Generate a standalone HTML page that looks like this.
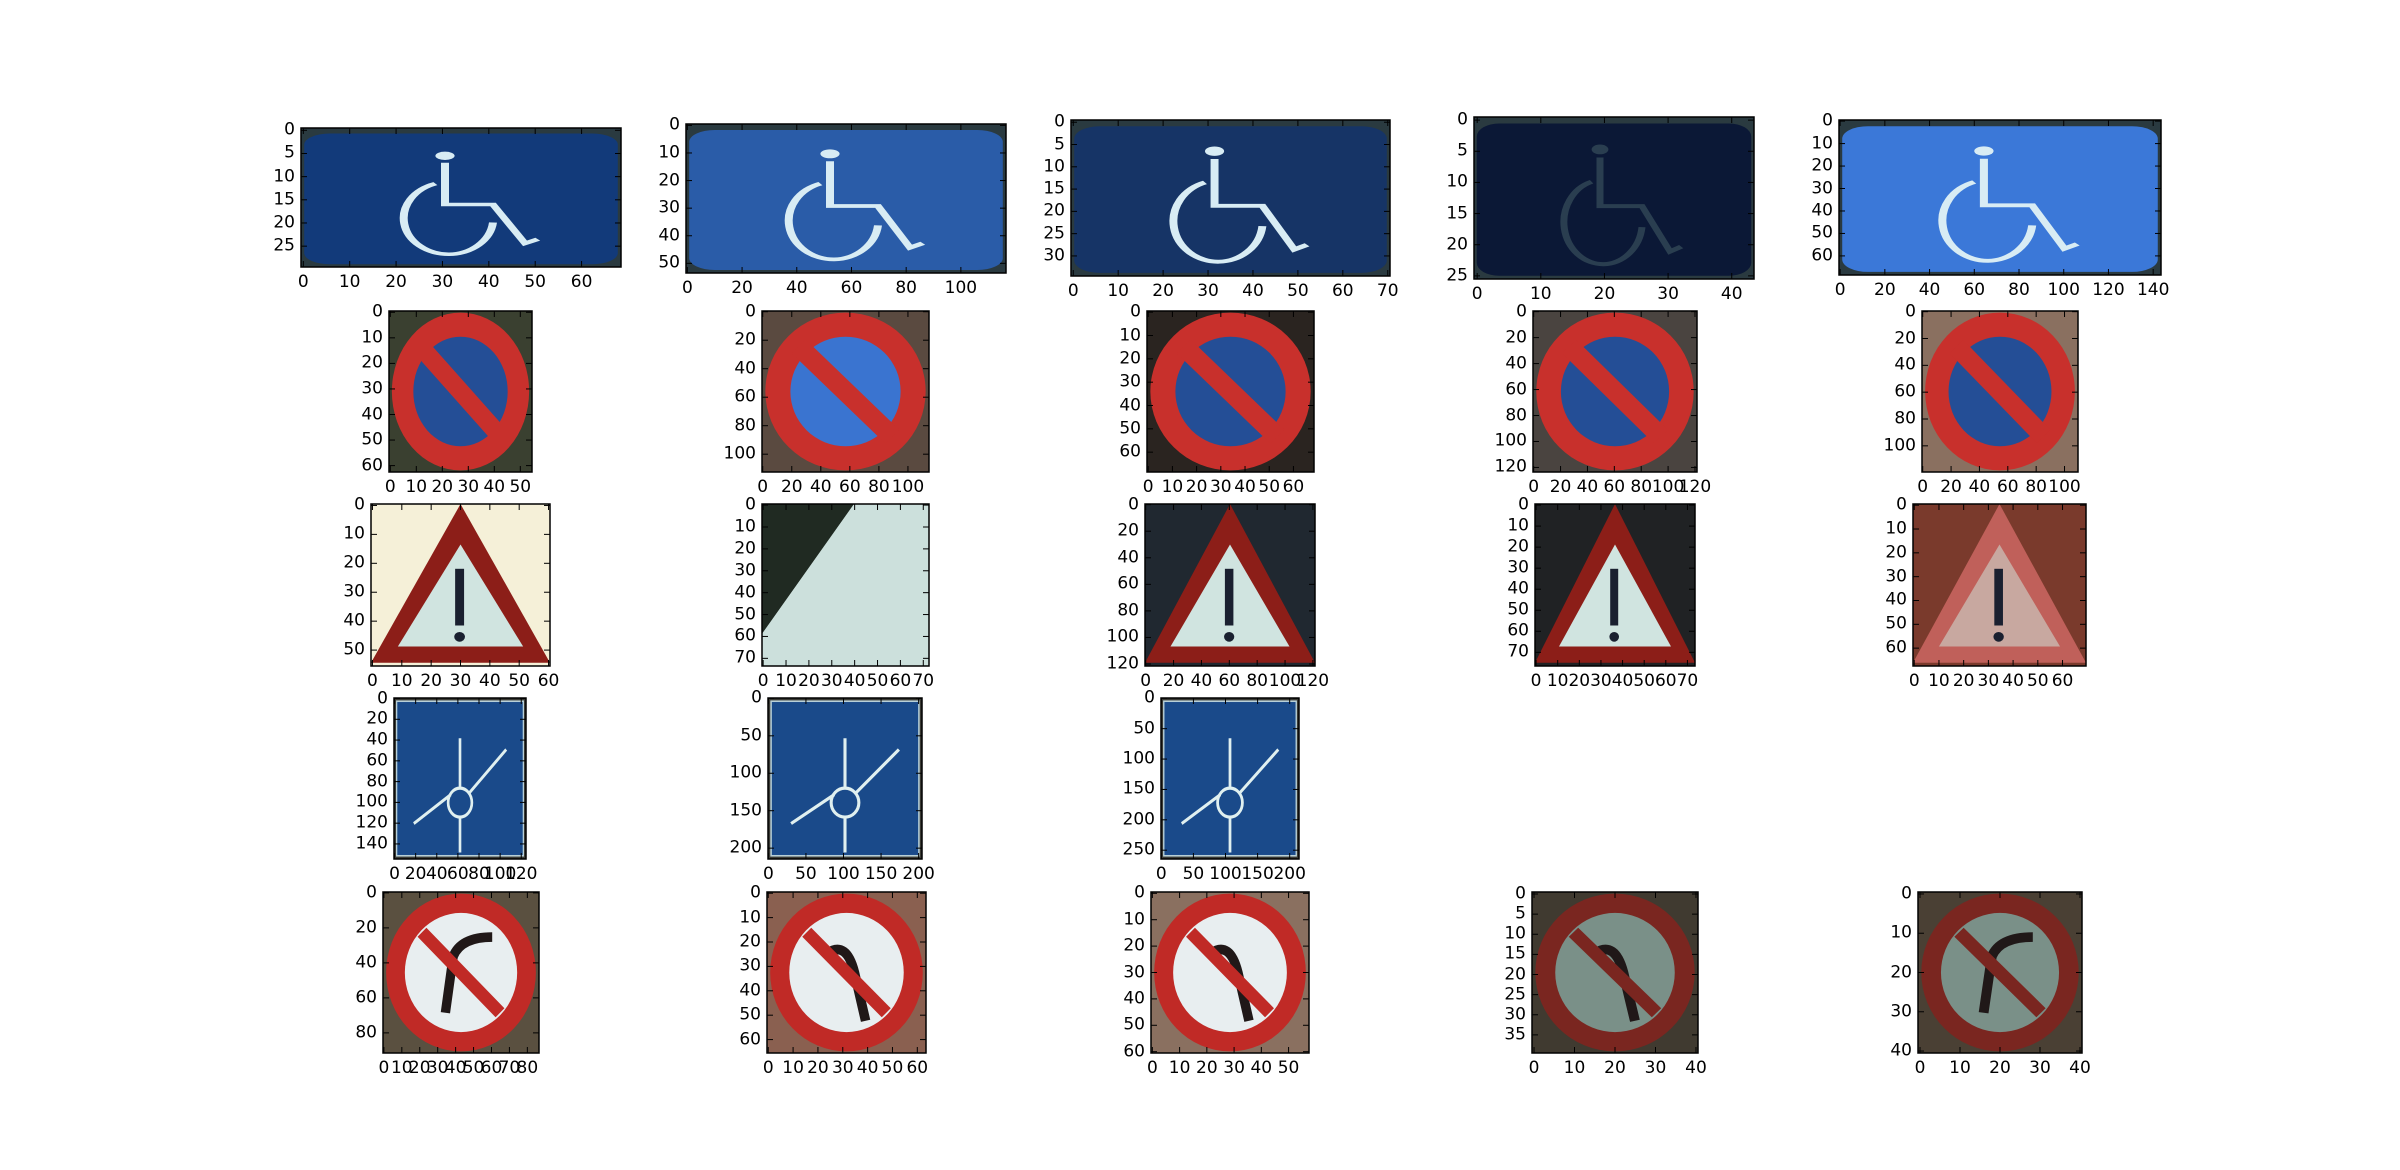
<!DOCTYPE html>
<html><head><meta charset="utf-8">
<style>
body{margin:0;background:#fff;width:2400px;height:1170px;overflow:hidden;position:relative;font-family:"DejaVu Sans","Liberation Sans",sans-serif;}
.ax{position:absolute;}
.lbl{position:absolute;font-size:17px;color:#000;white-space:nowrap;line-height:1;}
</style></head><body>
<div id="fig"></div>
<script>
// panel image sizes (data units) and tick steps
const imgW = [69,117,71,44,144, 55,115,69,122,110, 61,73,122,74,70, 125,205,215, 87,64,58,41,41];
const imgH = [30,54,35,26,69, 63,113,69,124,120, 56,74,122,77,68, 155,215,265, 92,66,61,40,41];
const xStep = [10,20,10,10,20, 10,20,10,20,20, 10,10,20,10,10, 20,50,50, 10,10,10,10,10];
const yStep = [5,10,5,5,10, 10,20,10,20,20, 10,10,20,10,10, 20,50,50, 20,10,10,5,10];
const kinds = ['wc','wc','wc','wc','wc','np','np','np','np','np','tri','tri','tri','tri','tri','rb','rb','rb','nt','nt','nt','nt','nt'];
const cols = [0,1,2,3,4, 0,1,2,3,4, 0,1,2,3,4, 0,1,2, 0,1,2,3,4];
// layout boxes
const boxes=[[301,128,621,267],[686,124,1006,273],[1071,120,1390,276],[1474,117,1754,279],[1839,120,2161,275],
[389,311,532,472],[762,311,929,472],[1147,311,1314,472],[1533,311,1697,472],[1922,311,2078,472],
[371,504,550,666],[762,504,929,666],[1145,504,1315,666],[1535,504,1695,666],[1913,504,2086,666],
[394,698,526,859],[768,698,922,859],[1161,698,1299,859],
[383,892,539,1053],[767,892,926,1053],[1151,892,1309,1053],[1532,892,1698,1053],[1918,892,2082,1053]];
const wcBg=['#123a7a','#2a5ca8','#163466','#0b1836','#3b78d8'];
const npBg=['#3a4030','#5a4a40','#2a2420','#4a4440','#8a7060'];
const triBg=['#f5f0d8','#1e2a22','#202830','#202224','#7a3a2c'];
const ntBg=['#5a5040','#8a6050','#8a7060','#403a30','#4a4034'];
const NS='http://www.w3.org/2000/svg';
const fig=document.getElementById('fig');
function el(t,a,p){const e=document.createElementNS(NS,t);for(const k in a)e.setAttribute(k,a[k]);p.appendChild(e);return e;}
function content(svg,kind,idx){
  if(kind==='wc'){
    el('rect',{x:0,y:0,width:100,height:100,fill:'#2a3a40'},svg);
    el('rect',{x:1,y:4,width:98,height:94,rx:8,fill:wcBg[idx]},svg);
    const c=idx===3?'#2a3e50':'#d8ecf4';
    el('circle',{cx:45,cy:20,r:3,fill:c},svg);
    el('path',{d:'M45 25 L45 55 L60 55 L70 83 L74 80',fill:'none',stroke:c,'stroke-width':2.5},svg);
    el('path',{d:'M42 40 A14 26 0 1 0 60 68',fill:'none',stroke:c,'stroke-width':2.5},svg);
  }else if(kind==='np'){
    el('rect',{x:0,y:0,width:100,height:100,fill:npBg[idx]},svg);
    el('ellipse',{cx:50,cy:50,rx:48,ry:49,fill:'#c8302c'},svg);
    el('ellipse',{cx:50,cy:50,rx:33,ry:34,fill:idx===1?'#3a74d0':'#244e96'},svg);
    el('line',{x1:22,y1:22,x2:78,y2:78,stroke:'#c8302c','stroke-width':12},svg);
  }else if(kind==='tri'){
    el('rect',{x:0,y:0,width:100,height:100,fill:triBg[idx]},svg);
    const fillIn=idx===4?'#c8a8a0':'#d0e4e0';
    if(idx===1){el('polygon',{points:'55,0 100,0 100,100 0,100 0,80',fill:'#cce0dc'},svg);el('polygon',{points:'0,0 55,0 0,80',fill:'#202a22'},svg);return;}
    el('polygon',{points:'50,0 100,98 0,98',fill:idx===4?'#c0605a':'#8c1e18'},svg);
    el('polygon',{points:'50,25 85,88 15,88',fill:fillIn},svg);
    el('rect',{x:47,y:40,width:5,height:35,fill:'#1a2030'},svg);
    el('circle',{cx:49.5,cy:82,r:3,fill:'#1a2030'},svg);
  }else if(kind==='rb'){
    el('rect',{x:0,y:0,width:100,height:100,fill:'#3a3a34'},svg);
    el('rect',{x:2,y:2,width:96,height:96,fill:'#1a4a8a',stroke:'#b8d0d8','stroke-width':1},svg);
    el('circle',{cx:50,cy:65,r:9,fill:'none',stroke:'#e0f0f0','stroke-width':2},svg);
    el('path',{d:'M50 74 L50 96 M50 56 L50 25 M57 59 L85 32 M43 60 L15 78',fill:'none',stroke:'#e0f0f0','stroke-width':2},svg);
  }else{
    el('rect',{x:0,y:0,width:100,height:100,fill:ntBg[idx]},svg);
    el('ellipse',{cx:50,cy:50,rx:48,ry:49,fill:idx>=3?'#7a2620':'#c02a26'},svg);
    el('ellipse',{cx:50,cy:50,rx:36,ry:37,fill:idx>=3?'#7a9088':'#e8eef0'},svg);
    el('path',{d:idx===1||idx===2||idx===3?'M62 80 L55 50 Q50 30 38 38 M38 38 L30 30':'M40 75 L45 40 Q50 28 70 28',fill:'none',stroke:'#201818','stroke-width':6},svg);
    el('line',{x1:25,y1:25,x2:75,y2:75,stroke:idx>=3?'#7a2620':'#c02a26','stroke-width':8},svg);
  }
}
for(let i=0;i<imgW.length;i++){
  const [x0,y0,x1,y1]=boxes[i];const w=x1-x0,h=y1-y0;
  const W=imgW[i],H=imgH[i];
  const sx=v=>(v+0.5)/W*w, sy=v=>(v+0.5)/H*h;
  const ax=document.createElement('div');ax.className='ax';
  
  
  ax.style.left=x0+'px';ax.style.top=y0+'px';ax.style.width=w+'px';ax.style.height=h+'px';
  fig.appendChild(ax);
  const svg=document.createElementNS(NS,'svg');svg.setAttribute('width',w);svg.setAttribute('height',h);
  svg.setAttribute('viewBox','0 0 100 100');svg.setAttribute('preserveAspectRatio','none');
  svg.style.position='absolute';svg.style.left='0';svg.style.top='0';
  
  
  ax.appendChild(svg);
  content(svg,kinds[i],cols[i]);
  const o=document.createElementNS(NS,'svg');o.setAttribute('width',w+2);o.setAttribute('height',h+2);
  o.style.position='absolute';o.style.left='-1px';o.style.top='-1px';o.style.overflow='visible';ax.appendChild(o);
  el('rect',{x:1,y:1,width:w,height:h,fill:'none',stroke:'#000','stroke-width':1.5},o);
  for(let v=0;v<=W-0.5;v+=xStep[i]){
    const px=sx(v)+1;
    el('line',{x1:px,y1:1,x2:px,y2:7,stroke:'#000'},o);
    el('line',{x1:px,y1:h+1,x2:px,y2:h-5,stroke:'#000'},o);
    const l=document.createElement('div');l.className='lbl';l.textContent=v;
    
    
    l.style.left=(x0+sx(v))+'px';l.style.top=(y1+7)+'px';l.style.transform='translateX(-50%)';
    fig.appendChild(l);
  }
  for(let v=0;v<=H-0.5;v+=yStep[i]){
    const py=sy(v)+1;
    el('line',{x1:1,y1:py,x2:7,y2:py,stroke:'#000'},o);
    el('line',{x1:w+1,y1:py,x2:w-5,y2:py,stroke:'#000'},o);
    const l=document.createElement('div');l.className='lbl';l.textContent=v;
    
    
    l.style.right=(2400-x0+6)+'px';l.style.top=(y0+sy(v))+'px';l.style.transform='translateY(-50%)';
    fig.appendChild(l);
  }
}
</script>
</body></html>
